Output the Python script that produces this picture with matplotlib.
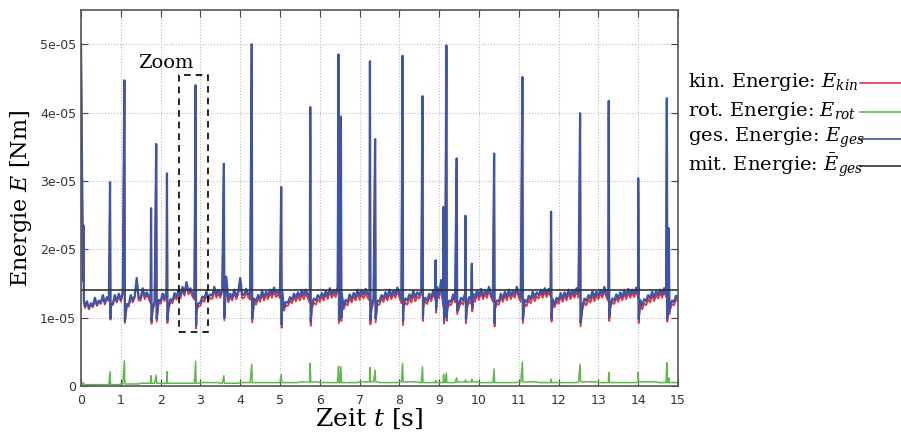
import numpy as np
import matplotlib
matplotlib.use('Agg')
import matplotlib.pyplot as plt
from matplotlib.lines import Line2D
from matplotlib.ticker import FuncFormatter, MultipleLocator

plt.rcParams['font.family'] = 'DejaVu Serif'
plt.rcParams['mathtext.fontset'] = 'dejavuserif'

# Gesamtenergie, Grundverlauf im 0.05 s Raster (Einheit 1e-7 Nm)
dt_ges = 0.05
ges_base = [
    500, 155, 116, 124, 114, 121, 117, 129, 119, 125, 122, 133, 121, 130, 126, 121, 120, 133, 124, 135,
    126, 137, 113, 120, 119, 133, 125, 132, 158, 128, 129, 143, 131, 137, 132, 125, 115, 123, 117, 126,
    124, 135, 128, 140, 117, 127, 125, 136, 130, 141, 132, 145, 136, 152, 138, 143, 135, 130, 113, 121,
    122, 131, 128, 138, 130, 134, 132, 145, 134, 140, 133, 142, 119, 160, 126, 135, 129, 141, 131, 138,
    158, 133, 134, 142, 135, 131, 118, 128, 124, 133, 128, 139, 130, 138, 132, 141, 134, 144, 135, 139,
    133, 140, 115, 123, 122, 130, 126, 135, 129, 137, 131, 140, 133, 141, 134, 127, 119, 128, 125, 133,
    128, 136, 130, 139, 132, 143, 134, 140, 135, 145, 121, 135, 117, 126, 123, 134, 127, 136, 130, 141,
    132, 140, 134, 142, 135, 131, 119, 128, 117, 125, 124, 133, 128, 137, 130, 141, 132, 139, 134, 144,
    135, 127, 119, 128, 125, 134, 128, 139, 130, 137, 133, 140, 120, 129, 125, 135, 129, 140, 131, 145,
    133, 155, 121, 129, 115, 125, 123, 134, 127, 145, 121, 129, 125, 136, 120, 130, 126, 135, 129, 140,
    131, 142, 132, 139, 134, 145, 135, 128, 117, 125, 124, 135, 128, 138, 130, 141, 132, 139, 134, 145,
    135, 129, 117, 126, 123, 132, 127, 138, 130, 137, 133, 141, 134, 143, 135, 142, 135, 127, 120, 129,
    125, 136, 128, 137, 130, 141, 132, 140, 134, 143, 135, 127, 118, 128, 124, 133, 128, 139, 130, 138,
    132, 140, 134, 145, 135, 129, 119, 128, 125, 134, 128, 137, 130, 140, 132, 142, 134, 141, 135, 144,
    134, 126, 118, 127, 124, 133, 128, 138, 130, 139, 133, 141, 134, 143, 135, 158, 116, 125, 123, 132,
    128,
]

# Rotationsenergie, Grundverlauf je 0.5 s (1e-7 Nm)
dt_rot = 0.5
rot_base = [2, 2, 3, 4, 4, 4, 5, 4, 5, 5, 5, 6, 5, 5, 6,
            5, 6, 5, 5, 6, 5, 5, 6, 5, 5, 6, 5, 5, 6, 5, 5]

# Stoesse: Zeitpunkt [s], Spitze und Einbruch von E_ges, Spitze von E_rot (1e-7 Nm)
spike_t = [0.06, 0.73, 1.09, 1.76, 1.89, 2.16, 2.88, 3.59, 4.29, 5.03, 5.76, 6.47, 6.53,
           7.26, 7.39, 8.08, 8.58, 8.91, 9.11, 9.18, 9.44, 9.66, 9.82, 10.38, 11.09,
           11.81, 12.54, 13.26, 14.00, 14.72, 14.77]
spike_peak = [235, 298, 447, 260, 354, 311, 440, 325, 500, 291, 408, 485, 394,
              475, 361, 483, 424, 184, 262, 498, 333, 249, 179, 340, 452,
              255, 399, 417, 304, 421, 231]
spike_dip = [125, 99, 95, 95, 98, 96, 88, 100, 98, 90, 94, 97, 100,
             96, 99, 95, 100, 112, 96, 100, 110, 98, 115, 92, 98,
             99, 93, 100, 98, 99, 110]
rot_peak = [5, 21, 37, 15, 16, 21, 36, 15, 32, 17, 33, 29, 28,
            27, 23, 33, 28, 8, 17, 19, 12, 9, 10, 25, 35,
            10, 32, 20, 20, 34, 12]

E_mean = 1.41e-05

# Zeitreihen: Raster, Stossspitzen und Einbrueche nach der Zeit sortiert
t_grid = np.arange(len(ges_base)) * dt_ges
st = np.array(spike_t)
t_all = np.concatenate([t_grid, st, st + 0.012])
rot_lookup = lambda t: rot_base[min(int(t / dt_rot), len(rot_base) - 1)]

ges_all = np.concatenate([ges_base, spike_peak, spike_dip]).astype(float)
rot_all = np.concatenate([[rot_lookup(t) for t in t_grid], rot_peak,
                          [rot_lookup(t) for t in st]]).astype(float)
order = np.argsort(t_all, kind='stable')
t = t_all[order]
ges = ges_all[order] * 1e-7
rot = rot_all[order] * 1e-7
kin = ges - rot  # E_ges = E_kin + E_rot

fig = plt.figure(figsize=(9.01, 4.34), dpi=100)
ax = fig.add_axes([0.0899, 0.1106, 0.6626, 0.8664])

c_kin, c_rot, c_ges, c_mit = '#e8343f', '#5fb84a', '#3b56a8', '#333333'
ax.plot(t, kin, color=c_kin, lw=1.3)
ax.plot(t, rot, color=c_rot, lw=1.1)
ax.plot(t, ges, color=c_ges, lw=1.6)
ax.axhline(E_mean, color=c_mit, lw=1.2)

# Zoom-Bereich
ax.plot([2.46, 3.19, 3.19, 2.46, 2.46], [0.79e-5, 0.79e-5, 4.55e-5, 4.55e-5, 0.79e-5],
        color='black', lw=1.2, ls=(0, (4, 3)))
ax.text(2.13, 4.72e-5, 'Zoom', fontsize=14, ha='center', va='center')

ax.set_xlim(0, 15)
ax.set_ylim(0, 5.5e-05)
ax.xaxis.set_major_locator(MultipleLocator(1))
ax.yaxis.set_major_locator(MultipleLocator(1e-05))
ax.yaxis.set_major_formatter(FuncFormatter(lambda v, p: '0' if abs(v) < 1e-12 else f'{v:.0e}'))
ax.grid(True, ls=':', color='#bbbbbb', lw=0.8)
ax.tick_params(direction='in', length=5, top=True, right=True, labelsize=9, color='#444444')
ax.tick_params(axis='x', pad=6)
for lab in ax.get_xticklabels() + ax.get_yticklabels():
    lab.set_family('DejaVu Sans')
    lab.set_color('#333333')
for s in ax.spines.values():
    s.set_color('#555555')
    s.set_linewidth(1.2)

ax.set_xlabel(r'Zeit $t$ [s]', fontsize=18)
ax.xaxis.set_label_coords(0.483, -0.055, transform=ax.transAxes)
ax.xaxis.label.set_va('top')
ax.set_ylabel(r'Energie $E$ [Nm]', fontsize=16, labelpad=4)

# Legende: Text links, Linienmuster rechts daneben
labels = [r'kin. Energie: $E_{kin}$', r'rot. Energie: $E_{rot}$',
          r'ges. Energie: $E_{ges}$', r'mit. Energie: $\bar{E}_{ges}$']
colors = [c_kin, c_rot, c_ges, c_mit]
rows_y = [82, 111, 138, 165]
W, H = 901, 434
for lab, col, y in zip(labels, colors, rows_y):
    fig.text(688 / W, 1 - y / H, lab, fontsize=14, ha='left', va='center')
    fig.add_artist(Line2D([860 / W, 901 / W], [1 - (y + 1) / H] * 2, color=col, lw=1.2))

fig.savefig('out.png', dpi=100)
